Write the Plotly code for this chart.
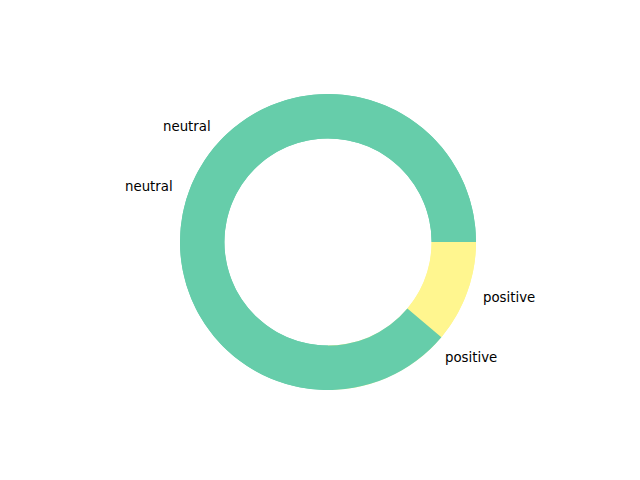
import math
import plotly.graph_objects as go

# Two pies drawn over each other (the second one is the visible one)
labels_under = ["neutral", "positive"]
values_under = [3, 1]
labels_top = ["neutral", "positive"]
values_top = [8, 1]
colors = ["#66cdaa", "#fff68f"]

W, H = 640, 480
cx, cy, R = 328, 242, 148
hole = 0.7

fig = go.Figure()
dom = dict(x=[(cx - R) / W, (cx + R) / W], y=[1 - (cy + R) / H, 1 - (cy - R) / H])
for labs, vals in [(labels_under, values_under), (labels_top, values_top)]:
    # matplotlib draws counterclockwise from 3 o'clock; equivalent to clockwise
    # from 3 o'clock with the slice order reversed
    fig.add_trace(go.Pie(labels=labs[::-1], values=vals[::-1], hole=hole, sort=False,
                         direction="clockwise", rotation=90,
                         marker=dict(colors=colors[::-1], line=dict(width=0)),
                         textinfo="none", hoverinfo="label+value",
                         domain=dom, showlegend=False))

annotations = []
for labs, vals in [(labels_under, values_under), (labels_top, values_top)]:
    total = sum(vals)
    start = 0.0
    for lab, v in zip(labs, vals):
        ang = start + 360.0 * v / total / 2
        start += 360.0 * v / total
        t = math.radians(ang)
        px = cx + 1.1 * R * math.cos(t)
        py = cy - 1.1 * R * math.sin(t)
        annotations.append(dict(x=px / W, y=1 - py / H, xref="paper", yref="paper",
                                text=lab, showarrow=False,
                                xanchor="left" if math.cos(t) > 0 else "right",
                                yanchor="middle",
                                font=dict(family="DejaVu Sans", size=13.33, color="black")))

fig.update_layout(width=W, height=H, margin=dict(l=0, r=0, t=0, b=0),
                  paper_bgcolor="white", plot_bgcolor="white",
                  annotations=annotations)
fig.write_html("out.html")
